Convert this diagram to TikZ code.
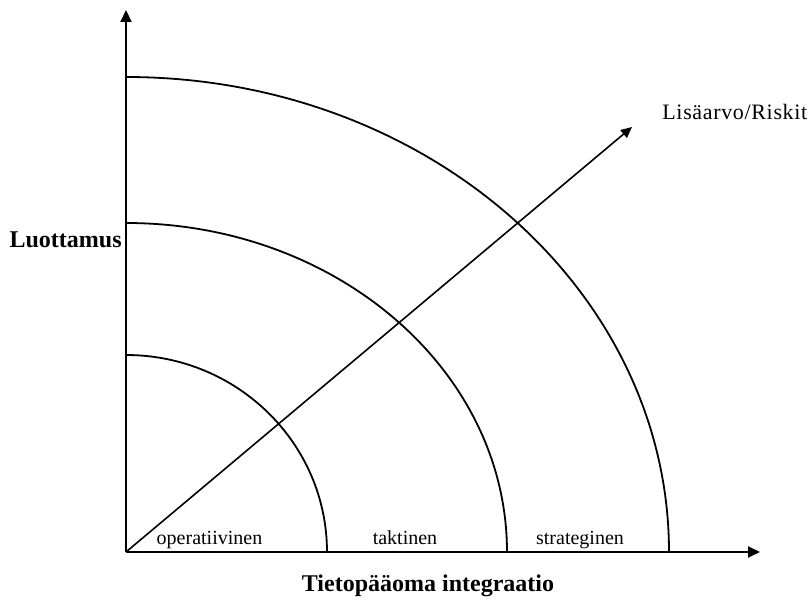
\documentclass[tikz,border=0pt]{standalone}
\usepackage{fontspec}
\setmainfont{Liberation Serif}
\usetikzlibrary{arrows.meta}
\begin{document}
\begin{tikzpicture}[x=0.5pt,y=0.5pt,
  axis/.style={line width=1pt,-{Triangle[length=6pt,width=5.5pt]}},
  ring/.style={line width=0.9pt},
  lbl/.style={inner sep=0pt,font=\fontsize{10pt}{12pt}\selectfont},
  blbl/.style={inner sep=0pt,font=\fontsize{12pt}{14pt}\selectfont\bfseries}]
\useasboundingbox (0,0) rectangle (811,601);
\coordinate (O) at (126,49);
\coordinate (ytip) at (126,591);
\coordinate (xtip) at (760,49);
\coordinate (dtip) at (632,474);
\draw[ring] (327,49) arc[start angle=0,end angle=90,x radius=201,y radius=197];
\draw[ring] (507,49) arc[start angle=0,end angle=90,x radius=381,y radius=329];
\draw[ring] (669,49) arc[start angle=0,end angle=90,x radius=543,y radius=475];
\draw[axis] (O) -- (ytip);
\draw[axis] (O) -- (xtip);
\draw[line width=0.8pt,-{Triangle[length=5.5pt,width=5pt]}] (O) -- (dtip);
\node[blbl,anchor=base east] (luo) at (122,353) {Luottamus};
\node[blbl,anchor=base] (tie) at (428,9) {Tietopääoma integraatio};
\node[lbl,anchor=base west,font=\fontsize{11pt}{13pt}\selectfont\addfontfeatures{LetterSpace=3}] (lis) at (662,481) {Lisäarvo/Riskit};
\node[lbl,anchor=base] (op) at (209.5,56) {operatiivinen};
\node[lbl,anchor=base] (ta) at (405,56) {taktinen};
\node[lbl,anchor=base] (st) at (580,56) {strateginen};
\end{tikzpicture}
\end{document}
